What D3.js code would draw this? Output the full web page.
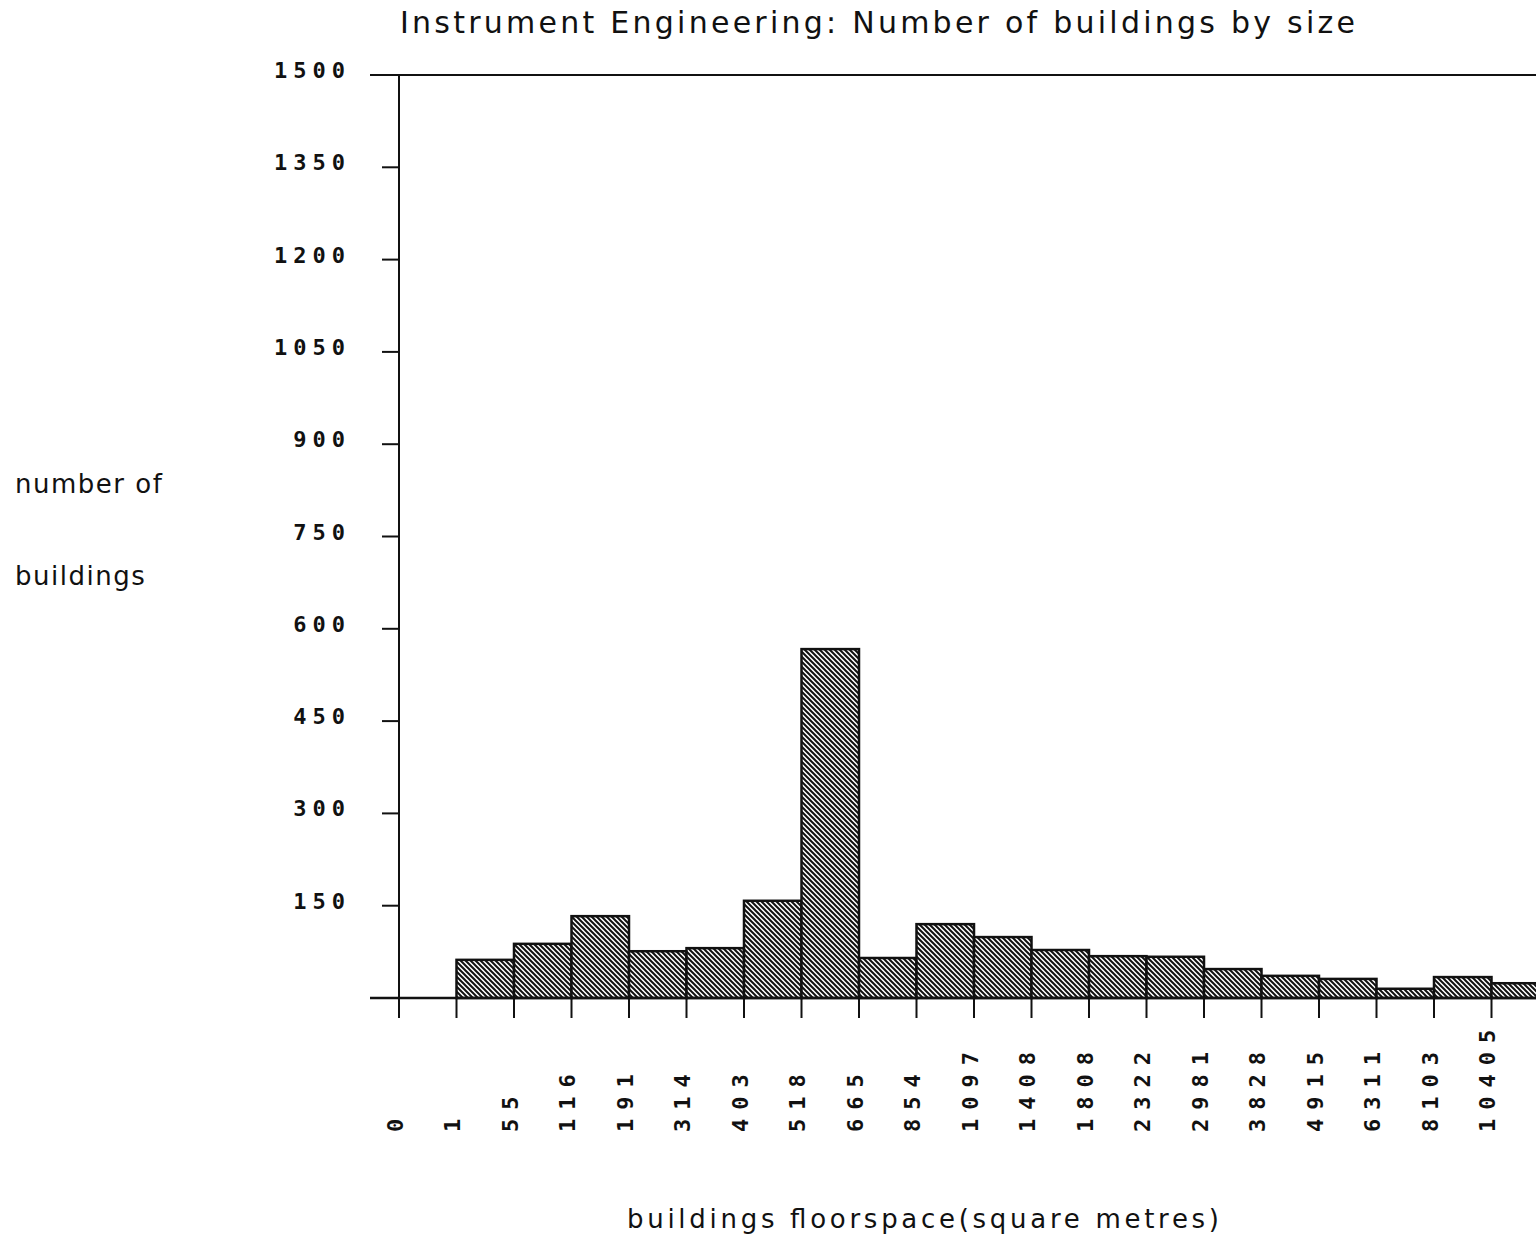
<!DOCTYPE html>
<html>
<head>
<meta charset="utf-8">
<script src="https://cdn.jsdelivr.net/npm/d3@7"></script>
<style>
  html, body { margin: 0; padding: 0; background: #fff; overflow: hidden; }
  svg { display: block; }
</style>
</head>
<body>
<svg id="chart" width="1536" height="1239"></svg>
<script>
// ---- data ----
const binLabels = ["0","1","55","116","191","314","403","518","665","854","1097","1408","1808","2322","2981","3828","4915","6311","8103","10405"];
const counts = [0, 62, 88, 133, 76, 81, 158, 567, 65, 120, 99, 78, 68, 67, 47, 36, 31, 15, 34, 24];
const yTicks = [150, 300, 450, 600, 750, 900, 1050, 1200, 1350, 1500];
const titleText = "Instrument Engineering: Number of buildings by size";
const yLabelLines = ["number of", "buildings"];
const xLabelText = "buildings floorspace(square metres)";

// ---- layout ----
const svg = d3.select("#chart");
const x0 = 399, step = 57.5;
const x = d3.scaleLinear().domain([0, binLabels.length]).range([x0, x0 + step * binLabels.length]);
const y = d3.scaleLinear().domain([0, 1500]).range([998, 75]);

const defs = svg.append("defs");
const pat = defs.append("pattern")
  .attr("id", "hatch").attr("patternUnits", "userSpaceOnUse")
  .attr("width", 5).attr("height", 5);
pat.append("rect").attr("width", 5).attr("height", 5).attr("fill", "#fff");
pat.append("path").attr("d", "M-1,-1 L6,6 M-1,4 L1,6 M4,-1 L6,1")
  .attr("stroke", "#111").attr("stroke-width", 2);

const monoFont = "'DejaVu Sans Mono', 'Liberation Mono', monospace";
const sansFont = "'DejaVu Sans', 'Liberation Sans', sans-serif";

// title
svg.append("text")
  .attr("x", 400).attr("y", 33)
  .attr("textLength", 955).attr("lengthAdjust", "spacing")
  .attr("font-family", sansFont).attr("font-size", 30)
  .attr("fill", "#111")
  .text(titleText);

// bars
svg.append("g").selectAll("rect")
  .data(counts.map((c, i) => ({ c, i })).filter(d => d.c > 0))
  .join("rect")
  .attr("x", d => x(d.i))
  .attr("width", d => x(d.i + 1) - x(d.i))
  .attr("y", d => y(d.c))
  .attr("height", d => y(0) - y(d.c))
  .attr("fill", "url(#hatch)")
  .attr("stroke", "#111").attr("stroke-width", 2.5);

// y axis line
svg.append("line")
  .attr("x1", x0).attr("x2", x0)
  .attr("y1", y(1500)).attr("y2", 1018)
  .attr("stroke", "#111").attr("stroke-width", 2);

// top line
svg.append("line")
  .attr("x1", 370).attr("x2", 1536)
  .attr("y1", y(1500)).attr("y2", y(1500))
  .attr("stroke", "#111").attr("stroke-width", 2);

// baseline
svg.append("line")
  .attr("x1", 370).attr("x2", 1536)
  .attr("y1", y(0)).attr("y2", y(0))
  .attr("stroke", "#111").attr("stroke-width", 2.5);

// y ticks
const yg = svg.append("g");
yg.selectAll("line").data(yTicks).join("line")
  .attr("x1", 382).attr("x2", x0)
  .attr("y1", d => y(d)).attr("y2", d => y(d))
  .attr("stroke", "#111").attr("stroke-width", 2);
yg.selectAll("text").data(yTicks).join("text")
  .attr("x", 351).attr("y", d => y(d) + 3)
  .attr("text-anchor", "end")
  .attr("font-family", monoFont).attr("font-weight", "bold")
  .attr("font-size", 22).attr("letter-spacing", 6)
  .attr("fill", "#111")
  .text(d => d);

// x ticks
const xg = svg.append("g");
xg.selectAll("line").data(binLabels).join("line")
  .attr("x1", (d, i) => x(i)).attr("x2", (d, i) => x(i))
  .attr("y1", y(0)).attr("y2", 1018)
  .attr("stroke", "#111").attr("stroke-width", 2);
xg.selectAll("text").data(binLabels).join("text")
  .attr("transform", (d, i) => `translate(${x(i) - 4},1132) rotate(-90)`)
  .attr("dominant-baseline", "central")
  .attr("text-anchor", "start")
  .attr("font-family", monoFont).attr("font-weight", "bold")
  .attr("font-size", 22).attr("letter-spacing", 9)
  .attr("fill", "#111")
  .text(d => d);

// y label
svg.append("g").selectAll("text").data(yLabelLines).join("text")
  .attr("x", 15).attr("y", (d, i) => 493 + i * 92)
  .attr("font-family", sansFont).attr("font-size", 26)
  .attr("letter-spacing", 1.5)
  .attr("fill", "#111")
  .text(d => d);

// x label
svg.append("text")
  .attr("x", 627).attr("y", 1228)
  .attr("textLength", 592).attr("lengthAdjust", "spacing")
  .attr("font-family", sansFont).attr("font-size", 26)
  .attr("fill", "#111")
  .text(xLabelText);
</script>
</body>
</html>
